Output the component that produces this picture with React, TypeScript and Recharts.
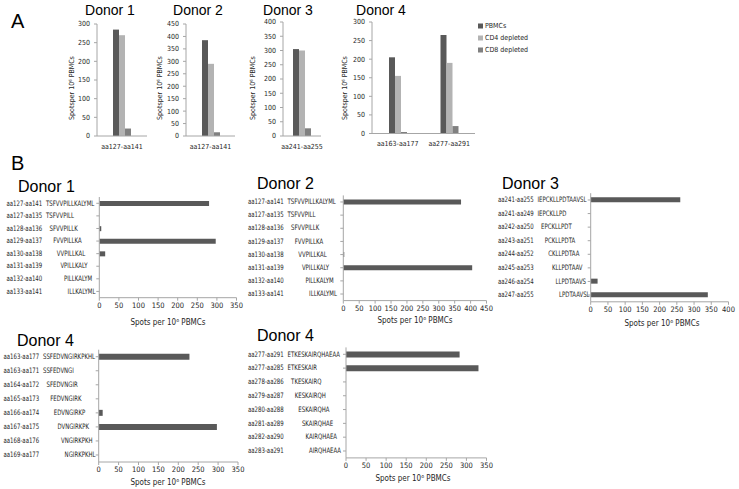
import React from "react";
import { BarChart, Bar, XAxis, YAxis } from "recharts";

const W = 739;
const H = 489;

const NARROW = "'Liberation Sans Narrow', 'DejaVu Sans Condensed', 'Liberation Sans', sans-serif";
const ARIAL = "'Liberation Sans', Arial, sans-serif";
const AXIS = "#a6a6a6";
const INK = "#262626";
const PBMC = "#595959";
const CD4 = "#b3b3b3";
const CD8 = "#808080";
const BAR = "#595959";

// ---- panel A: PBMCs vs CD4 / CD8 depleted
const seriesNames = ["PBMCs", "CD4 depleted", "CD8 depleted"];

const a1Cats = ["aa127-aa141"];
const a1Pbmc = [285];
const a1Cd4 = [270];
const a1Cd8 = [20];
const a1Ticks = [0, 50, 100, 150, 200, 250, 300];

const a2Cats = ["aa127-aa141"];
const a2Pbmc = [385];
const a2Cd4 = [290];
const a2Cd8 = [15];
const a2Ticks = [0, 50, 100, 150, 200, 250, 300, 350, 400, 450];

const a3Cats = ["aa241-aa255"];
const a3Pbmc = [305];
const a3Cd4 = [300];
const a3Cd8 = [27];
const a3Ticks = [0, 50, 100, 150, 200, 250, 300, 350, 400];

const a4Cats = ["aa163-aa177", "aa277-aa291"];
const a4Pbmc = [205, 265];
const a4Cd4 = [155, 190];
const a4Cd8 = [4, 20];
const a4Ticks = [0, 50, 100, 150, 200, 250, 300];

// ---- panel B: peptide mapping
const b1Ranges = ["aa127-aa141", "aa127-aa135", "aa128-aa136", "aa129-aa137", "aa130-aa138", "aa131-aa139", "aa132-aa140", "aa133-aa141"];
const b1Peptides = ["TSFVVPILLKALYML", "TSFVVPILL", "SFVVPILLK", "FVVPILLKA", "VVPILLKAL", "VPILLKALY", "PILLKALYM", "ILLKALYML"];
const b1Values = [280, 0, 5, 297, 15, 0, 0, 0];
const b1Ticks = [0, 50, 100, 150, 200, 250, 300, 350];

const b2Ranges = b1Ranges;
const b2Peptides = b1Peptides;
const b2Values = [370, 0, 0, 0, 3, 405, 0, 0];
const b2Ticks = [0, 50, 100, 150, 200, 250, 300, 350, 400, 450];

const b3Ranges = ["aa241-aa255", "aa241-aa249", "aa242-aa250", "aa243-aa251", "aa244-aa252", "aa245-aa253", "aa246-aa254", "aa247-aa255"];
const b3Peptides = ["IEPCKLLPDTAAVSL", "IEPCKLLPD", "EPCKLLPDT", "PCKLLPDTA", "CKLLPDTAA", "KLLPDTAAV", "LLPDTAAVS", "LPDTAAVSL"];
const b3Values = [260, 0, 0, 0, 0, 0, 20, 340];
const b3Ticks = [0, 50, 100, 150, 200, 250, 300, 350, 400];

const b4Ranges = ["aa163-aa177", "aa163-aa171", "aa164-aa172", "aa165-aa173", "aa166-aa174", "aa167-aa175", "aa168-aa176", "aa169-aa177"];
const b4Peptides = ["SSFEDVNGIRKPKHL", "SSFEDVNGI", "SFEDVNGIR", "FEDVNGIRK", "EDVNGIRKP", "DVNGIRKPK", "VNGIRKPKH", "NGIRKPKHL"];
const b4Values = [228, 0, 0, 0, 10, 297, 0, 0];
const b4Ticks = [0, 50, 100, 150, 200, 250, 300, 350];

const b5Ranges = ["aa277-aa291", "aa277-aa285", "aa278-aa286", "aa279-aa287", "aa280-aa288", "aa281-aa289", "aa282-aa290", "aa283-aa291"];
const b5Peptides = ["ETKESKAIRQHAEAA", "ETKESKAIR", "TKESKAIRQ", "KESKAIRQH", "ESKAIRQHA", "SKAIRQHAE", "KAIRQHAEA", "AIRQHAEAA"];
const b5Values = [283, 330, 0, 0, 0, 0, 0, 0];
const b5Ticks = [0, 50, 100, 150, 200, 250, 300, 350];

const PEP_BASE = 39.5;
const PEP_STEP = 3.6;
const SQUEEZE = 0.8;

// margins so that the plot area lands on x0..x1 / y0..y1 of the full canvas
const frame = (x0: number, y0: number, x1: number, y1: number, yw: number, xh: number) => ({
  top: y0, left: x0 - yw, right: W - x1, bottom: H - y1 - xh,
});

const layer: React.CSSProperties = { position: "absolute", left: 0, top: 0 };

function DepletionChart({ cats, pbmc, cd4, cd8, ticks, x0, y0, x1, y1 }: any) {
  const data = cats.map((name: string, i: number) => ({ name, pbmc: pbmc[i], cd4: cd4[i], cd8: cd8[i] }));
  const tick = { fontSize: 7, fill: INK, fontFamily: NARROW };
  return (
    <div style={layer}>
      <BarChart width={W} height={H} data={data} margin={frame(x0, y0, x1, y1, 30, 20)} barGap={0} barSize={6}>
        <XAxis dataKey="name" height={20} interval={0} axisLine={{ stroke: AXIS }} tickLine={false}
          tickSize={0} tickMargin={8} tick={tick} />
        <YAxis type="number" domain={[0, ticks[ticks.length - 1]]} ticks={ticks} interval={0} width={30}
          axisLine={{ stroke: AXIS }} tickLine={{ stroke: AXIS }} tickSize={3} tickMargin={4} tick={tick} />
        <Bar dataKey="pbmc" fill={PBMC} isAnimationActive={false} />
        <Bar dataKey="cd4" fill={CD4} isAnimationActive={false} />
        <Bar dataKey="cd8" fill={CD8} isAnimationActive={false} />
      </BarChart>
    </div>
  );
}

function PeptideChart({ ranges, peptides, values, ticks, x0, y0, x1, y1, labelX, barSize }: any) {
  const data = ranges.map((range: string, i: number) => ({ range, value: values[i] }));
  const first = parseInt(ranges[0].slice(2), 10);
  const renderTick = (p: any) => {
    const i = ranges.indexOf(p.payload.value);
    const start = parseInt(ranges[i].slice(2), 10);
    const px = labelX + PEP_BASE + (start - first) * PEP_STEP;
    const txt = { x: 0, y: 0, fontSize: 7.5, fill: INK, fontFamily: NARROW, dominantBaseline: "central" as const };
    return (
      <g>
        <text transform={`translate(${labelX} ${p.y}) scale(${SQUEEZE} 1)`} {...txt}>{ranges[i]}</text>
        <text transform={`translate(${px} ${p.y}) scale(${SQUEEZE} 1)`} {...txt}>{peptides[i]}</text>
      </g>
    );
  };
  return (
    <div style={layer}>
      <BarChart layout="vertical" width={W} height={H} data={data} margin={frame(x0, y0, x1, y1, 10, 20)}>
        <XAxis type="number" domain={[0, ticks[ticks.length - 1]]} ticks={ticks} interval={0} height={20}
          axisLine={{ stroke: AXIS }} tickLine={{ stroke: AXIS }} tickSize={3} tickMargin={2}
          tick={{ fontSize: 7.5, fill: INK, fontFamily: NARROW }} />
        <YAxis type="category" dataKey="range" width={10} interval={0} axisLine={{ stroke: AXIS }}
          tickLine={{ stroke: AXIS }} tickSize={3} tick={renderTick} />
        <Bar dataKey="value" fill={BAR} barSize={barSize} isAnimationActive={false} />
      </BarChart>
    </div>
  );
}

const aTitles = [
  { t: "Donor 1", x: 110 }, { t: "Donor 2", x: 198 }, { t: "Donor 3", x: 288 }, { t: "Donor 4", x: 381 },
];
const aYLabelX = [72, 160, 253, 345];
const legendColors = [PBMC, CD4, CD8];

const bTitles = [
  { t: "Donor 1", x: 18, y: 192 }, { t: "Donor 2", x: 257, y: 189 }, { t: "Donor 3", x: 502, y: 189 },
  { t: "Donor 4", x: 17, y: 346 }, { t: "Donor 4", x: 257, y: 341 },
];
const bXLabels = [
  { x: 168, y: 322 }, { x: 415, y: 320 }, { x: 662, y: 323 }, { x: 168, y: 482 }, { x: 413, y: 478 },
];

function Overlay() {
  const small = { fontSize: 8, fill: INK, fontFamily: NARROW };
  return (
    <svg width={W} height={H} style={layer}>
      <text x={11} y={28} fontSize={20} fontFamily={ARIAL} fill="#000">A</text>
      <text x={11} y={170} fontSize={20} fontFamily={ARIAL} fill="#000">B</text>
      {aTitles.map((d, i) => (
        <text key={i} x={d.x} y={15} fontSize={14} fontFamily={ARIAL} fill="#000" textAnchor="middle">{d.t}</text>
      ))}
      {aYLabelX.map((x, i) => (
        <text key={i} x={x} y={88} transform={`rotate(-90 ${x} 88)`} textAnchor="middle"
          dominantBaseline="central" {...small} fontSize={7}>Spotsper 10⁶ PBMCs</text>
      ))}
      {seriesNames.map((s, i) => (
        <g key={s}>
          <rect x={478} y={23.5 + i * 12} width={5} height={5} fill={legendColors[i]} />
          <text x={485} y={26 + i * 12} dominantBaseline="central" {...small} fontSize={7}>{s}</text>
        </g>
      ))}
      {bTitles.map((d, i) => (
        <text key={i} x={d.x} y={d.y} fontSize={16} fontFamily={ARIAL} fill="#000">{d.t}</text>
      ))}
      {bXLabels.map((d, i) => (
        <text key={i} x={d.x} y={d.y} textAnchor="middle" dominantBaseline="central" {...small}>Spots per 10⁶ PBMCs</text>
      ))}
    </svg>
  );
}

export default function App() {
  return (
    <div style={{ position: "absolute", left: 0, top: 0, width: W, height: H, background: "#fff" }}>
      <DepletionChart cats={a1Cats} pbmc={a1Pbmc} cd4={a1Cd4} cd8={a1Cd8} ticks={a1Ticks} x0={97} y0={24} x1={147} y1={136} />
      <DepletionChart cats={a2Cats} pbmc={a2Pbmc} cd4={a2Cd4} cd8={a2Cd8} ticks={a2Ticks} x0={186} y0={24} x1={235} y1={136} />
      <DepletionChart cats={a3Cats} pbmc={a3Pbmc} cd4={a3Cd4} cd8={a3Cd8} ticks={a3Ticks} x0={283} y0={22} x1={321} y1={136} />
      <DepletionChart cats={a4Cats} pbmc={a4Pbmc} cd4={a4Cd4} cd8={a4Cd8} ticks={a4Ticks} x0={372} y0={22} x1={475} y1={133.5} />

      <PeptideChart ranges={b1Ranges} peptides={b1Peptides} values={b1Values} ticks={b1Ticks}
        x0={99.3} y0={197} x1={236.5} y1={297.7} labelX={6.5} barSize={5} />
      <PeptideChart ranges={b2Ranges} peptides={b2Peptides} values={b2Values} ticks={b2Ticks}
        x0={343.3} y0={195.4} x1={486.5} y1={300.6} labelX={248} barSize={5} />
      <PeptideChart ranges={b3Ranges} peptides={b3Peptides} values={b3Values} ticks={b3Ticks}
        x0={590.7} y0={193.2} x1={728.5} y1={301.8} labelX={498} barSize={5} />
      <PeptideChart ranges={b4Ranges} peptides={b4Peptides} values={b4Values} ticks={b4Ticks}
        x0={98.7} y0={349.7} x1={238} y1={462} labelX={3.5} barSize={6} />
      <PeptideChart ranges={b5Ranges} peptides={b5Peptides} values={b5Values} ticks={b5Ticks}
        x0={346} y0={347.4} x1={486.5} y1={457.9} labelX={248} barSize={6} />

      <Overlay />
    </div>
  );
}
